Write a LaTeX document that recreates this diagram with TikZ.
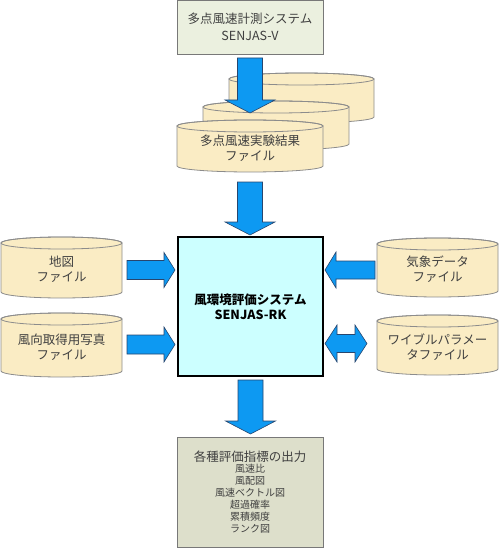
\documentclass[tikz,border=0pt]{standalone}
\usepackage{fontspec}
\setmainfont{Noto Sans CJK JP}
\usetikzlibrary{calc}
\definecolor{arrowblue}{RGB}{13,153,242}
\definecolor{arrowline}{RGB}{40,70,110}
\definecolor{cylfill}{RGB}{250,236,196}
\definecolor{cylline}{RGB}{140,140,140}
\definecolor{topfill}{RGB}{235,240,223}
\definecolor{botfill}{RGB}{221,223,203}
\definecolor{boxline}{RGB}{120,120,120}
\definecolor{mainfill}{RGB}{204,255,255}
\definecolor{txtgray}{RGB}{64,64,64}
\tikzset{
 arrowst/.style={fill=arrowblue, draw=arrowline, line width=0.6pt, line join=miter},
 cylst/.style={fill=cylfill, draw=cylline, line width=0.8pt},
 cyltext/.style={text=txtgray, align=center, font=\fontsize{12.5}{15}\selectfont, inner sep=0pt},
 cylshape/.style={inner sep=0pt, outer sep=0pt},
 greybox/.style={draw=boxline, line width=0.8pt, inner sep=0pt, outer sep=0pt, anchor=north west, text=txtgray, align=center},
}
% block arrow: origin, angle, length, shaft half width, head half width, head length
\newcommand\blockarrow[6]{%
 \path[arrowst, shift={#1}, rotate=#2] (0,-#4) -- ({#3-#6},-#4) -- ({#3-#6},-#5) -- (#3,0) -- ({#3-#6},#5) -- ({#3-#6},#4) -- (0,#4) -- cycle;}
\newcommand\dblockarrow[6]{%
 \path[arrowst, shift={#1}, rotate=#2] (0,0) -- (#6,-#5) -- (#6,-#4) -- ({#3-#6},-#4) -- ({#3-#6},-#5) -- (#3,0) -- ({#3-#6},#5) -- ({#3-#6},#4) -- (#6,#4) -- (#6,#5) -- cycle;}
% cylinder: name, x1, y1, x2, y2, text
\newcommand\drumshape[6]{%
 \pgfmathsetmacro\cxx{(#2+#4)/2}%
 \pgfmathsetmacro\cyy{(#3+#5)/2}%
 \pgfmathsetmacro\rxx{(#4-#2)/2}%
 \pgfmathsetmacro\wdd{#4-#2}%
 \pgfmathsetmacro\htt{#5-#3}%
 \path[cylst] (#2,#3+6) -- (#2,#5-6) arc[start angle=180,end angle=360,x radius=\rxx pt,y radius=6pt] -- (#4,#3+6) arc[start angle=0,end angle=180,x radius=\rxx pt,y radius=6pt] -- cycle;
 \draw[cylline, line width=0.8pt] (\cxx,#3+6) ellipse[x radius=\rxx pt, y radius=6pt];
 \node[cylshape, minimum width=\wdd pt, minimum height=\htt pt] (#1) at (\cxx,\cyy) {};
 \node[cyltext] (#1-t) at (\cxx,\cyy+2) {#6};
}
\newcommand\bigtxt{\fontsize{12.5}{14}\selectfont}
\newcommand\smalltxt{\fontsize{10}{12.7}\selectfont}
\begin{document}
\begin{tikzpicture}[x=1pt,y=-1pt]
\useasboundingbox (0,0) rectangle (500,548);
% top box
\node[greybox, fill=topfill, minimum width=146pt, minimum height=54pt,
      font=\fontsize{12.5}{17}\selectfont] (meas) at (177,0) {多点風速計測システム\\SENJAS-V};
% stacked result files
\drumshape{back}{229}{73}{374}{123}{}
\drumshape{mid}{203}{101}{349}{150}{}
\drumshape{front}{177}{120}{323}{172}{多点風速実験結果\\ファイル}
% central system
\node[draw=black, line width=1.6pt, fill=mainfill, inner sep=0pt, outer sep=0pt, anchor=north west,
      minimum width=145pt, minimum height=139pt, align=center,
      font=\bfseries\fontsize{12.5}{15}\selectfont] (main) at (178,237) {風環境評価システム\\SENJAS-RK};
% side files
\drumshape{lc1}{1}{237}{122}{298}{地図\\ファイル}
\drumshape{lc2}{1}{313}{122}{377}{風向取得用写真\\ファイル}
\drumshape{rc1}{377}{238}{498}{297}{気象データ\\ファイル}
\drumshape{rc2}{377}{315}{498}{375}{ワイブルパラメー\\タファイル}
% output box
\node[greybox, fill=botfill, minimum width=146pt, minimum height=110pt] (out) at (177,437)
 {\bigtxt 各種評価指標の出力\\[-1pt]
  \smalltxt 風速比\\\smalltxt 風配図\\\smalltxt 風速ベクトル図\\\smalltxt 超過確率\\\smalltxt 累積頻度\\\smalltxt ランク図};
% block arrows
\blockarrow{($(meas.south)+(0,4)$)}{-90}{55}{12.5}{25}{13}
\blockarrow{($(front.south)+(0,10)$)}{-90}{53}{12.5}{25}{13}
\blockarrow{($(main.south)+(0,4)$)}{-90}{54}{12.5}{25}{13}
\blockarrow{($(lc1.east)+(5,2.5)$)}{0}{48}{9.5}{17.5}{11}
\blockarrow{($(lc2.east)+(5,-0.5)$)}{0}{48}{9.5}{17.5}{11}
\blockarrow{($(rc1.west)+(-2,2.5)$)}{180}{50}{9}{18}{11}
\dblockarrow{($(rc2.west)+(-10,-1.5)$)}{180}{42}{9}{18.5}{12}
\end{tikzpicture}
\end{document}
